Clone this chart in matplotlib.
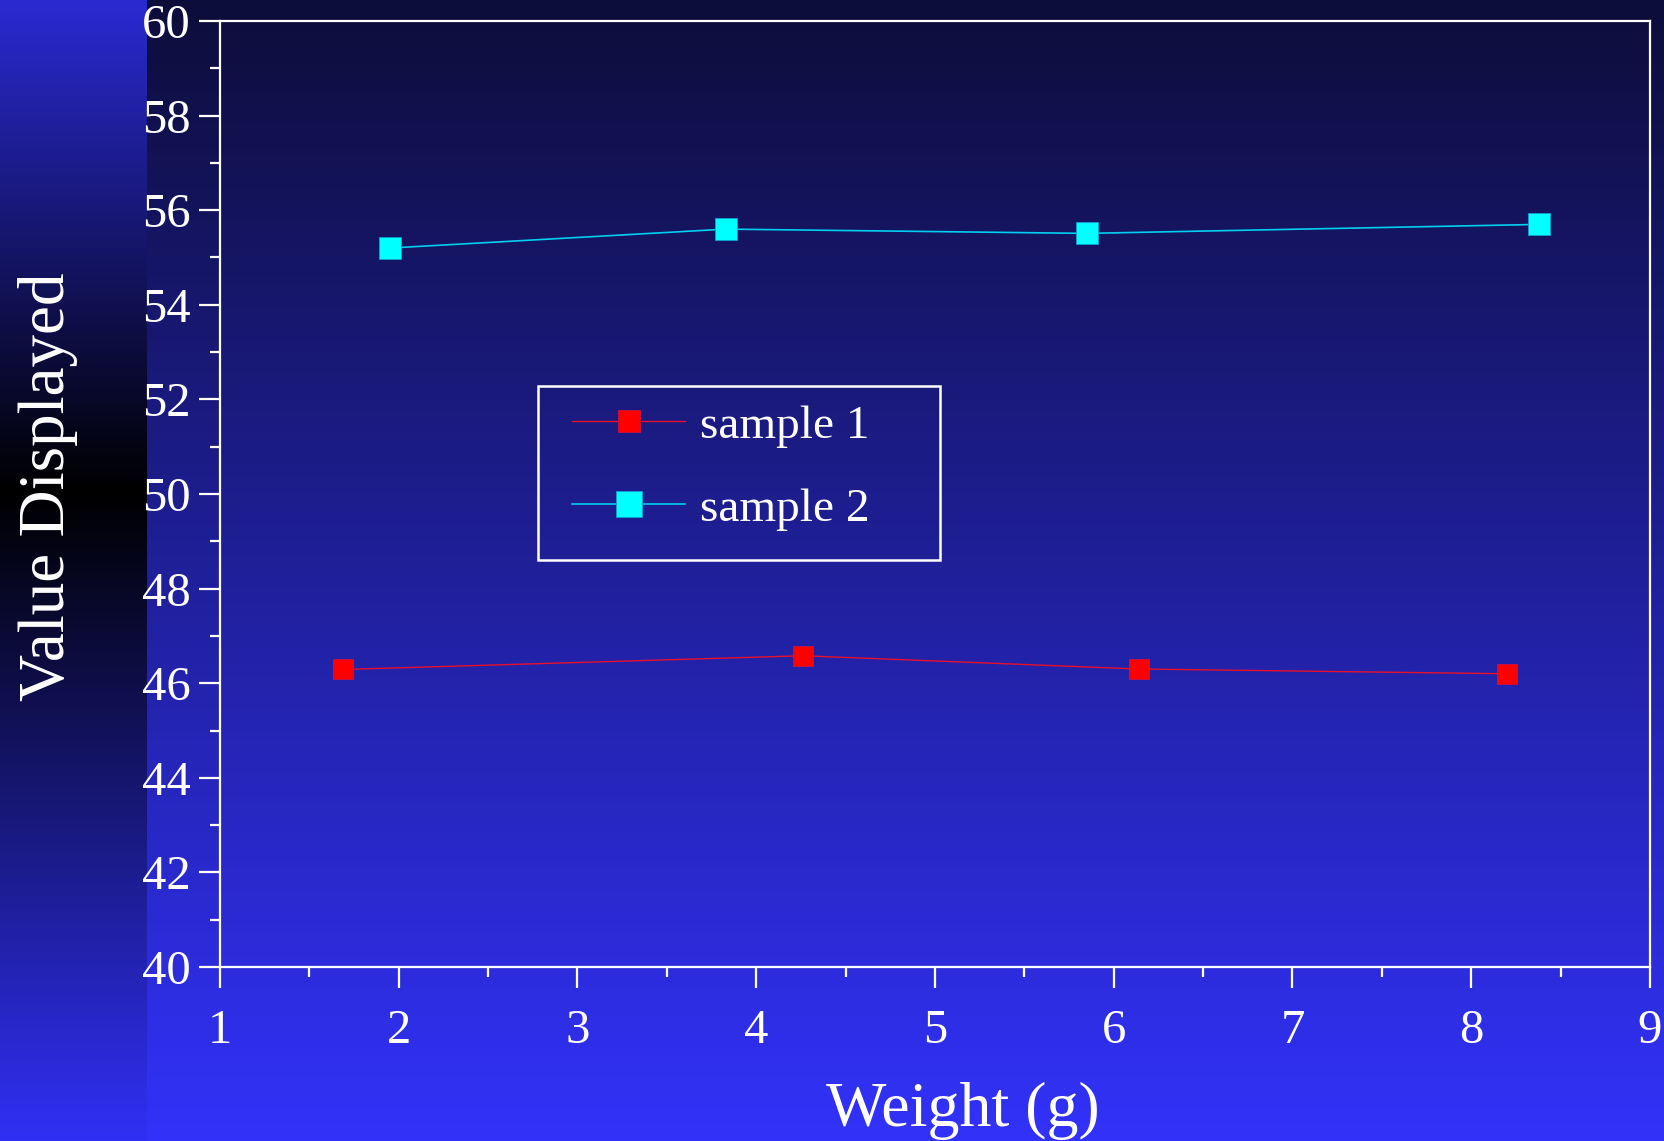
import numpy as np
import matplotlib
matplotlib.use('Agg')
import matplotlib.pyplot as plt
from matplotlib.ticker import MultipleLocator
from matplotlib.patches import Rectangle

plt.rcParams['font.family'] = ['Liberation Serif', 'DejaVu Serif']

# data
weight_1 = [1.69, 4.26, 6.14, 8.20]
value_1 = [46.29, 46.58, 46.30, 46.20]
weight_2 = [1.95, 3.83, 5.85, 8.38]
value_2 = [55.20, 55.60, 55.51, 55.70]
labels = ['sample 1', 'sample 2']
x_ticks = [1, 2, 3, 4, 5, 6, 7, 8, 9]
y_ticks = [40, 42, 44, 46, 48, 50, 52, 54, 56, 58, 60]

fig = plt.figure(figsize=(16.65, 11.41), dpi=100)

# background: blue gradient, plus the darker strip on the left
bg = fig.add_axes([0, 0, 1, 1], zorder=-10)
bg.set_axis_off()
h, w = 400, 1665
t = np.linspace(0, 1, h)[:, None]
top = np.array([13, 13, 58]) / 255.0
bot = np.array([50, 50, 250]) / 255.0
img = top + (bot - top) * t[..., None]
img = np.repeat(img, w, axis=1)
# left strip: blue -> black -> blue
s_top = np.array([42, 42, 210]) / 255.0
s_bot = np.array([48, 48, 245]) / 255.0
mid = 0.431
tt = np.linspace(0, 1, h)
strip = np.zeros((h, 3))
for i, v in enumerate(tt):
    if v < mid:
        strip[i] = s_top * (1 - v / mid)
    else:
        strip[i] = s_bot * ((v - mid) / (1 - mid))
img[:, :147, :] = strip[:, None, :]
bg.imshow(img, aspect='auto', extent=[0, 1, 0, 1], interpolation='bilinear')
bg.set_xlim(0, 1)
bg.set_ylim(0, 1)

ax = fig.add_axes([220 / 1665, 1 - 967 / 1141, 1430 / 1665, 946 / 1141])
ax.set_facecolor('none')

ax.plot(weight_1, value_1, color='#e8102a', lw=1.0, marker='s', ms=15,
        mfc='red', mec='#d01040', mew=0.6, label=labels[0])
ax.plot(weight_2, value_2, color='#00d0ee', lw=1.2, marker='s', ms=16.5,
        mfc='cyan', mec='#10a0d0', mew=0.6, label=labels[1])

ax.set_xlim(1, 9)
ax.set_ylim(40, 60)
ax.set_xticks(x_ticks)
ax.set_yticks(y_ticks)
ax.xaxis.set_minor_locator(MultipleLocator(0.5))
ax.yaxis.set_minor_locator(MultipleLocator(1))

for sp in ax.spines.values():
    sp.set_color('white')
    sp.set_linewidth(1.6)

ax.tick_params(which='major', direction='out', length=15, width=1.6,
               color='white', labelcolor='white', labelsize=35)
ax.tick_params(which='minor', direction='out', length=7.5, width=1.6,
               color='white')
ax.tick_params(axis='y', which='major', pad=6)
ax.tick_params(axis='x', which='major', pad=15)

# legend box drawn on its own, legend entries without frame
ax.add_patch(Rectangle((0.2224, 0.4304), 0.2811, 0.184, transform=ax.transAxes,
                       fill=False, edgecolor='white', lw=1.8, zorder=5))
leg = ax.legend(loc='upper left', bbox_to_anchor=(0.2462, 0.5945),
                fontsize=34, frameon=False, markerscale=1.1,
                handlelength=2.4, handletextpad=0.3, borderpad=0,
                labelspacing=0.85, borderaxespad=0)
for txt in leg.get_texts():
    txt.set_color('white')

fig.text(963 / 1665, 0.013, 'Weight (g)', color='white', fontsize=46,
         ha='center', va='baseline')
fig.text(48 / 1665, 1 - 487 / 1141, 'Value Displayed', color='white',
         fontsize=47, rotation=90, ha='center', va='center')

fig.savefig('out.png', dpi=100)
